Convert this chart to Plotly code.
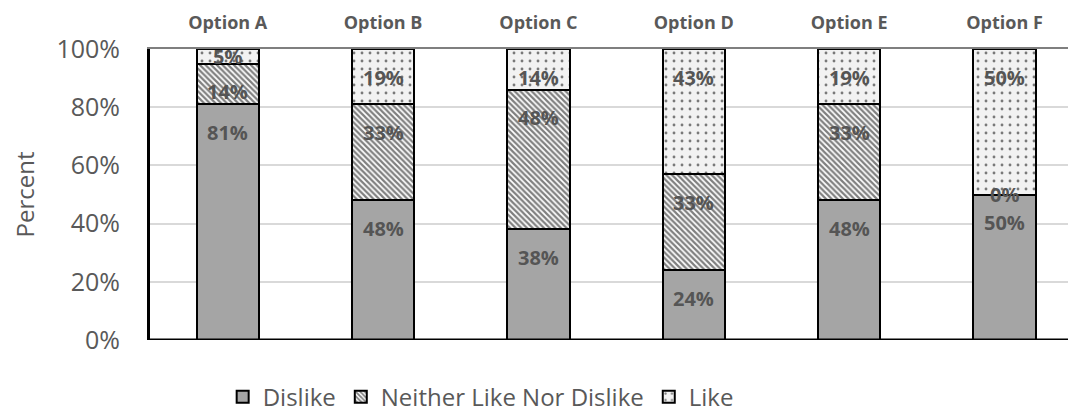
import plotly.graph_objects as go

categories = ["Option A", "Option B", "Option C", "Option D", "Option E", "Option F"]
dislike = [81, 48, 38, 24, 48, 50]
neither = [14, 33, 48, 33, 33, 0]
like = [5, 19, 14, 43, 19, 50]
series_names = ["Dislike", "Neither Like Nor Dislike", "Like"]
y_ticks = [0, 20, 40, 60, 80, 100]

series = [dislike, neither, like]
patterns = [
    dict(shape="", fgcolor="black", bgcolor="#A5A5A5"),
    dict(shape="\\", fgcolor="black", bgcolor="white", size=4, solidity=0.55),
    dict(shape=".", fgcolor="black", bgcolor="#F2F2F2", size=8, solidity=0.1),
]
fills = ["#A5A5A5", "white", "#F2F2F2"]

fig = go.Figure()
for name, vals, pat, fc in zip(series_names, series, patterns, fills):
    fig.add_trace(go.Bar(
        x=categories, y=vals, name=name, width=0.4,
        marker=dict(color=fc, pattern=pat, line=dict(color="black", width=2)),
        hoverinfo="skip",
    ))

LABEL_FONT = dict(family="Open Sans", size=20, color="#555555")
annotations = []
bottoms = [0] * len(categories)
for vals in series:
    for j, (c, v) in enumerate(zip(categories, vals)):
        b = bottoms[j]
        top = b + v
        if v >= 10:
            annotations.append(dict(x=c, y=top, yshift=-28, text=f"<b>{v}%</b>",
                                    showarrow=False, yanchor="middle", font=LABEL_FONT))
        else:
            annotations.append(dict(x=c, y=b + v / 2, text=f"<b>{v}%</b>",
                                    showarrow=False, yanchor="middle", font=LABEL_FONT))
        bottoms[j] = top

fig.update_layout(
    barmode="stack",
    width=1068, height=408,
    margin=dict(l=142, r=0, t=41, b=76, autoexpand=False),
    paper_bgcolor="white", plot_bgcolor="white",
    font=dict(family="Open Sans", color="#595959"),
    annotations=annotations,
    showlegend=True,
    legend=dict(orientation="h", xref="container", yref="container",
                x=0.201, xanchor="left", y=0.046, yanchor="middle",
                font=dict(size=24, color="#595959"), traceorder="normal",
                itemwidth=30),
    shapes=[dict(type="line", xref="paper", yref="y", x0=0, x1=1, y0=0, y1=0,
                 line=dict(color="black", width=3))],
)
fig.update_xaxes(
    side="top", type="category", range=[-0.5, 5.46], automargin=False,
    showline=True, linecolor="#7F7F7F", linewidth=2,
    showgrid=False, ticks="", ticklabelstandoff=11,
    tickfont=dict(family="Open Sans", size=18, color="#595959", weight="bold"),
)
fig.update_yaxes(
    range=[0, 100], tickvals=y_ticks, ticktext=[f"{t}%" for t in y_ticks],
    automargin=False,
    showline=True, linecolor="black", linewidth=3,
    showgrid=True, gridcolor="#D9D9D9", gridwidth=1.5,
    zeroline=False, ticks="", ticklabelstandoff=22,
    tickfont=dict(family="Open Sans", size=25, color="#595959"),
    title=dict(text="Percent", font=dict(family="Open Sans", size=24, color="#595959"), standoff=27),
)

fig.write_html("out.html")
